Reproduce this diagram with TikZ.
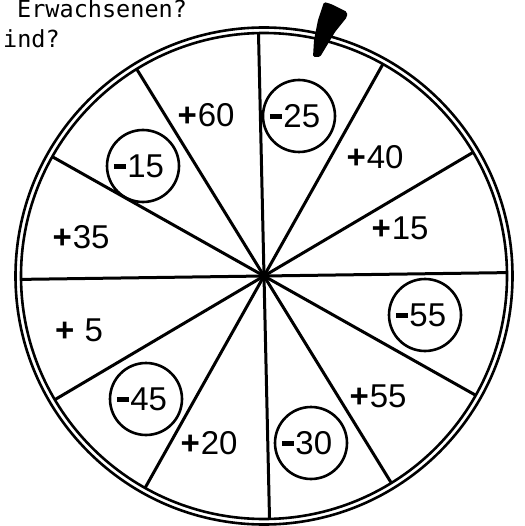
\documentclass[tikz,border=0pt]{standalone}
\usepackage{fontspec}
\usetikzlibrary{calc}
\setmainfont{Liberation Sans}
\newfontfamily\typew{DejaVu Sans Mono}
\newcommand\mn{\rule[8.5pt]{12pt}{5pt}\kern1.5pt}
\newcommand\pl{\textbf{+}\kern1pt}
\begin{document}
\begin{tikzpicture}[x=1pt,y=1pt,
  rim/.style={line width=2.6pt},
  spoke/.style={line width=3pt},
  val/.style={font=\fontsize{33}{33}\selectfont, inner sep=0pt},
  ring/.style={draw, circle, line width=2.6pt, minimum size=72pt, inner sep=0pt, font=\fontsize{33}{33}\selectfont},
  head/.style={font=\typew\fontsize{23.5}{23.5}\selectfont, anchor=base west, inner sep=0pt}
]
\useasboundingbox (0,0) rectangle (524,-526);
\coordinate (c) at (264,-276);
% rims
\draw[rim] (c) circle (243);
\draw[rim] (c) circle (248.5);
% spokes
\foreach \a/\n in {0.8/a,30.6/b,60.7/d,91.3/e,121.6/f,150.6/g}{
  \coordinate (p\n) at ($(c)+(\a:243)$);
  \coordinate (q\n) at ($(c)+(\a+180:243)$);
  \draw[spoke] (p\n) -- (q\n);
}
% pointer
\fill[black, rounded corners=1.5pt] (324,-2) -- (331,-4) -- (347,-12) -- (347,-17) -- (335,-32) -- (320,-57) -- (313,-57) -- (314,-40) -- (318,-20) -- cycle;
% header text
\node[head] (h1) at (17,-18) {Erwachsenen?};
\node[head] (h2) at (3,-48) {ind?};
% values
\node[val] (v60) at (206,-115) {\pl 60};
\node[ring] (v25) at (299,-116) {\mn 25\kern8pt};
\node[val] (v40) at (375,-157) {\pl 40};
\node[val] (v15) at (400,-228) {\pl 15};
\node[ring] (v55n) at (425,-315) {\mn 55\kern8pt};
\node[val] (v55) at (378,-396) {\pl 55};
\node[ring] (v30) at (311,-443) {\mn 30\kern8pt};
\node[val] (v20) at (209,-443) {\pl 20};
\node[ring] (v45) at (146,-399) {\mn 45\kern8pt};
\node[val] (v5) at (79,-330) {\pl\ 5};
\node[val] (v35) at (81,-237) {\pl 35};
\node[ring] (v15n) at (143,-166) {\mn 15\kern8pt};
\end{tikzpicture}
\end{document}
